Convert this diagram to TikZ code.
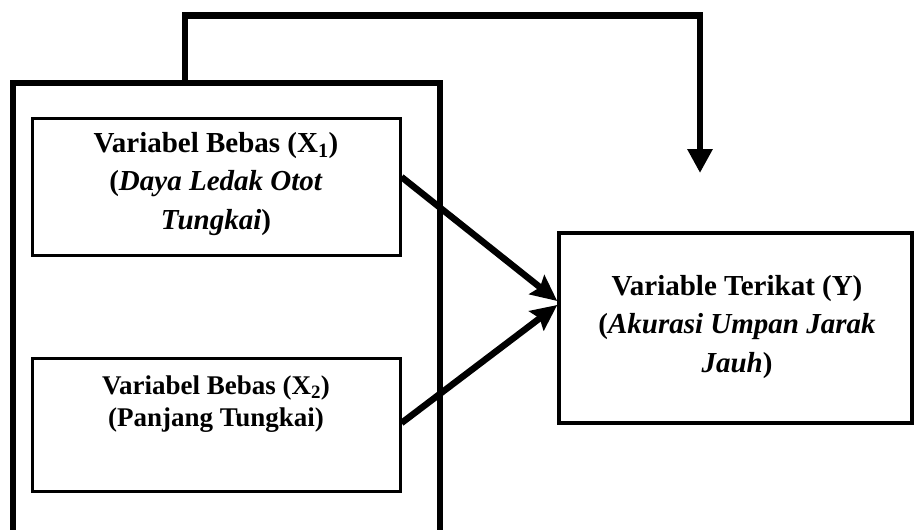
\documentclass[tikz,border=0pt]{standalone}
\usepackage{fontspec}
\setmainfont{Liberation Serif}
\usetikzlibrary{arrows.meta}
\begin{document}
\begin{tikzpicture}[x=1pt,y=-1pt,
  varbox/.style={draw,line width=3pt,inner sep=0pt,align=center},
  vtxt/.style={align=center,font=\bfseries\fontsize{29}{38.5}\selectfont},
  conn/.style={line width=6.5pt,-{Stealth[length=26pt,width=24pt,inset=4pt]}}]
\useasboundingbox (0,0) rectangle (916,530);
\node[draw,line width=6.5pt,minimum width=427pt,minimum height=451pt,inner sep=0pt] (outer) at (226.5,308.5) {};
\node[varbox,minimum width=368pt,minimum height=137pt] (x1) at (216,186.5) {};
\node[vtxt] (x1t) at (216,184) {Variabel Bebas (X\textsubscript{1})\\(\textit{Daya Ledak Otot}\\\textit{Tungkai})};
\node[varbox,minimum width=368pt,minimum height=133pt] (x2) at (216,424.5) {};
\node[align=center,font=\bfseries\fontsize{27}{32}\selectfont] (x2t) at (216,404) {Variabel Bebas (X\textsubscript{2})\\(Panjang Tungkai)};
\node[varbox,line width=3.5pt,minimum width=353pt,minimum height=190pt] (y) at (735.5,328) {};
\node[vtxt] (yt) at (737,327) {Variable Terikat (Y)\\(\textit{Akurasi Umpan Jarak}\\\textit{Jauh})};
\coordinate (tip) at (700,173);
\coordinate (t1) at (185,15.5);
\coordinate (t2) at (700,15.5);
\draw[line width=6.5pt,-{Triangle[length=24pt,width=24pt]}] (outer.north -| t1) -- (t1) -- (t2) -- (tip);
\draw[conn] (x1.east |- 0,177) -- (y.west |- 0,301);
\draw[conn] (x2.east |- 0,423) -- (y.west |- 0,305);
\end{tikzpicture}
\end{document}
